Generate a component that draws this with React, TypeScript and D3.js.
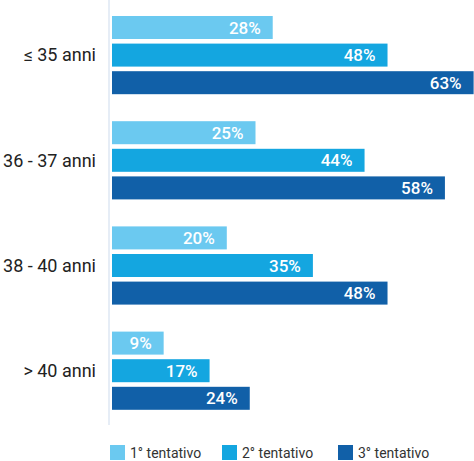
import * as d3 from 'd3';
import React, { useEffect, useRef } from 'react';

const categories = ['≤ 35 anni', '36 - 37 anni', '38 - 40 anni', '> 40 anni'];
const series = ['1° tentativo', '2° tentativo', '3° tentativo'];
const tentativo1 = [28, 25, 20, 9];
const tentativo2 = [48, 44, 35, 17];
const tentativo3 = [63, 58, 48, 24];
const colors = ['#6bc9f0', '#14a6e0', '#1160a8'];

const width = 474;
const height = 461;

export default function App() {
    const ref = useRef<SVGSVGElement>(null);

    useEffect(() => {
        const svg = d3.select(ref.current);
        svg.selectAll('*').remove();

        const values = [tentativo1, tentativo2, tentativo3];

        const x = d3.scaleLinear().domain([0, 100]).range([112, 112 + 574]);

        const y0 = d3.scaleBand<string>()
            .domain(categories)
            .range([16, 409.8])
            .paddingInner(0.2567)
            .paddingOuter(0);

        const y1 = d3.scaleBand<string>()
            .domain(series)
            .range([0, y0.bandwidth()])
            .paddingInner(0.1667);

        // axis line
        svg.append('line')
            .attr('x1', 109).attr('x2', 109)
            .attr('y1', 0).attr('y2', 425)
            .attr('stroke', '#e6edf6')
            .attr('stroke-width', 2);

        const groups = svg.selectAll('g.group')
            .data(categories)
            .join('g')
            .attr('class', 'group')
            .attr('transform', d => `translate(0,${y0(d)})`);

        groups.append('text')
            .attr('x', 96)
            .attr('y', y0.bandwidth() / 2)
            .attr('dy', '0.35em')
            .attr('text-anchor', 'end')
            .attr('font-family', 'Roboto, sans-serif')
            .attr('font-size', 18)
            .attr('fill', '#222')
            .text(d => d);

        series.forEach((s, si) => {
            groups.append('rect')
                .attr('x', x(0))
                .attr('y', y1(s)!)
                .attr('width', (_d, i) => x(values[si][i]) - x(0))
                .attr('height', y1.bandwidth())
                .attr('fill', colors[si]);

            groups.append('text')
                .attr('x', (_d, i) => x(values[si][i]) - 12)
                .attr('y', y1(s)! + y1.bandwidth() / 2)
                .attr('dy', '0.36em')
                .attr('text-anchor', 'end')
                .attr('font-family', 'Roboto, sans-serif')
                .attr('font-weight', 500)
                .attr('font-size', 17)
                .attr('fill', '#fff')
                .text((_d, i) => values[si][i] + '%');
        });

        // legend
        const legendX = [110, 222, 338];
        const legend = svg.selectAll('g.legend')
            .data(series)
            .join('g')
            .attr('class', 'legend')
            .attr('transform', (_d, i) => `translate(${legendX[i]},445)`);

        legend.append('rect')
            .attr('width', 15)
            .attr('height', 15)
            .attr('fill', (_d, i) => colors[i]);

        legend.append('text')
            .attr('x', 20)
            .attr('y', 13)
            .attr('font-family', 'Roboto, sans-serif')
            .attr('font-size', 14)
            .attr('fill', '#333')
            .text(d => d);
    }, []);

    return (
        <svg
            ref={ref}
            width={width}
            height={height}
            style={{ position: 'absolute', left: 0, top: 0, background: '#fff' }}
        />
    );
}
